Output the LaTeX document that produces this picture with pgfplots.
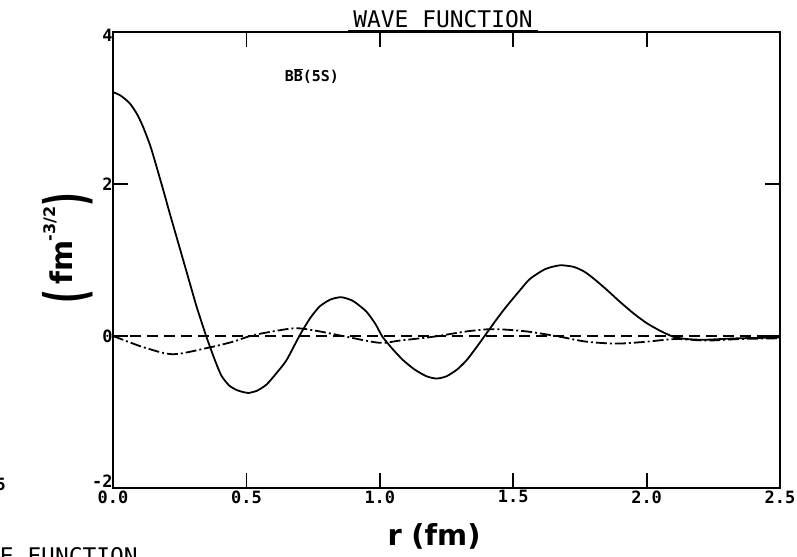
\documentclass[border=0pt]{standalone}
\usepackage{fontspec}
\setmainfont{DejaVu Sans}
\newfontfamily\mono{DejaVu Sans Mono}
\usepackage{graphicx}
\usepackage{pgfplots}
\pgfplotsset{compat=1.18}
\begin{document}
\begin{tikzpicture}[x=1bp,y=1bp]
\useasboundingbox (0,0) rectangle (797,557);
\begin{axis}[
  at={(113bp,69bp)}, anchor=south west,
  scale only axis, width=667bp, height=456bp,
  xmin=0, xmax=2.5, ymin=-2, ymax=4,
  xtick={0,0.5,1,1.5,2,2.5},
  xticklabels={0.0,0.5,1.0,1.5,2.0,2.5},
  ytick={-2,0,2,4},
  yticklabels={\raisebox{7bp}[\height][\depth]{-2},0,2,\raisebox{-3bp}[\height][\depth]{4}},
  tick align=inside,
  major tick length=15bp,
  tick style={line width=1.8pt, black},
  axis line style={line width=1.8pt},
  /pgf/number format/assume math mode=true,
  tick label style={font=\mono\bfseries\fontsize{17}{17}\selectfont},
  xticklabel style={yshift=1bp},
  yticklabel style={xshift=3bp},
  clip=false,
]
\addplot[black, line width=1.8pt, smooth, tension=0.4] coordinates {
(0,3.21) (0.03,3.16) (0.063,3.06) (0.09,2.92) (0.113,2.75) (0.14,2.50) (0.163,2.23)
(0.19,1.90) (0.213,1.61) (0.24,1.28) (0.263,1.00) (0.29,0.67) (0.313,0.39)
(0.35,-0.01) (0.38,-0.30) (0.406,-0.52) (0.435,-0.65) (0.463,-0.71) (0.49,-0.74) (0.507,-0.75)
(0.54,-0.72) (0.575,-0.64) (0.61,-0.50) (0.65,-0.32) (0.70,0.01) (0.74,0.24) (0.775,0.39)
(0.815,0.48) (0.856,0.51) (0.90,0.46) (0.95,0.32) (0.985,0.15)
(1.01,-0.01) (1.05,-0.18) (1.088,-0.32) (1.13,-0.44) (1.175,-0.53) (1.213,-0.56) (1.25,-0.53)
(1.29,-0.44) (1.325,-0.32) (1.36,-0.16)
(1.40,0.035) (1.44,0.23) (1.475,0.39) (1.52,0.58) (1.5625,0.75) (1.62,0.88) (1.675,0.93) (1.726,0.91)
(1.765,0.85) (1.80,0.76) (1.85,0.61) (1.90,0.45) (1.95,0.30) (2.0,0.17) (2.05,0.07) (2.10,-0.01)
(2.15,-0.04) (2.21,-0.05) (2.28,-0.04) (2.35,-0.03) (2.5,-0.02)
};
\addplot[black, line width=1.8pt, smooth, tension=0.5,
  dash pattern=on 11pt off 3pt on 2pt off 3pt] coordinates {
(0,0) (0.06,-0.08) (0.125,-0.16) (0.225,-0.24) (0.35,-0.16) (0.45,-0.075) (0.525,0.01)
(0.65,0.09) (0.70,0.10) (0.775,0.06) (0.875,-0.01) (1.0,-0.09) (1.075,-0.06)
(1.2,-0.01) (1.325,0.06) (1.425,0.09) (1.55,0.06) (1.675,-0.01) (1.775,-0.075)
(1.89,-0.10) (2.0,-0.075) (2.11,-0.04) (2.225,-0.06) (2.35,-0.04) (2.5,-0.03)
};
\addplot[black, line width=1.8pt, dash pattern=on 11pt off 6pt] coordinates {
(0,0) (2.5,0)
};
\node[font=\mono\bfseries\fontsize{15}{15}\selectfont] at (axis cs:0.745,3.42)
  {B$\overline{\hbox{B}}$(5S)};
\end{axis}
% title
\node[font=\mono\fontsize{23}{23}\selectfont, anchor=base, inner sep=0pt]
  at (443,529) {WAVE FUNCTION};
\draw[line width=1.2pt] (348,526) -- (538,526);
% axis labels
\node[font=\bfseries\fontsize{29}{29}\selectfont, anchor=center]
  at (434,21) {r\,\,(fm)};
\node[font=\bfseries\fontsize{30}{30}\selectfont, rotate=90, anchor=center, inner sep=0pt]
  at (68,309) {\raisebox{-0.45em}{\scalebox{1}[1.9]{(}}\,fm\kern-1pt\raisebox{0.55em}{\fontsize{16}{16}\selectfont -3/2}\raisebox{-0.45em}{\scalebox{1}[1.9]{)}}};
% fragments of neighbouring figure
\node[font=\mono\bfseries\fontsize{17}{17}\selectfont, anchor=base east, inner sep=0pt]
  at (6,66) {5S 5};
\node[font=\mono\fontsize{23}{23}\selectfont, anchor=north east, inner sep=0pt]
  at (138,10) {WAVE FUNCTION};
\end{tikzpicture}
\end{document}
